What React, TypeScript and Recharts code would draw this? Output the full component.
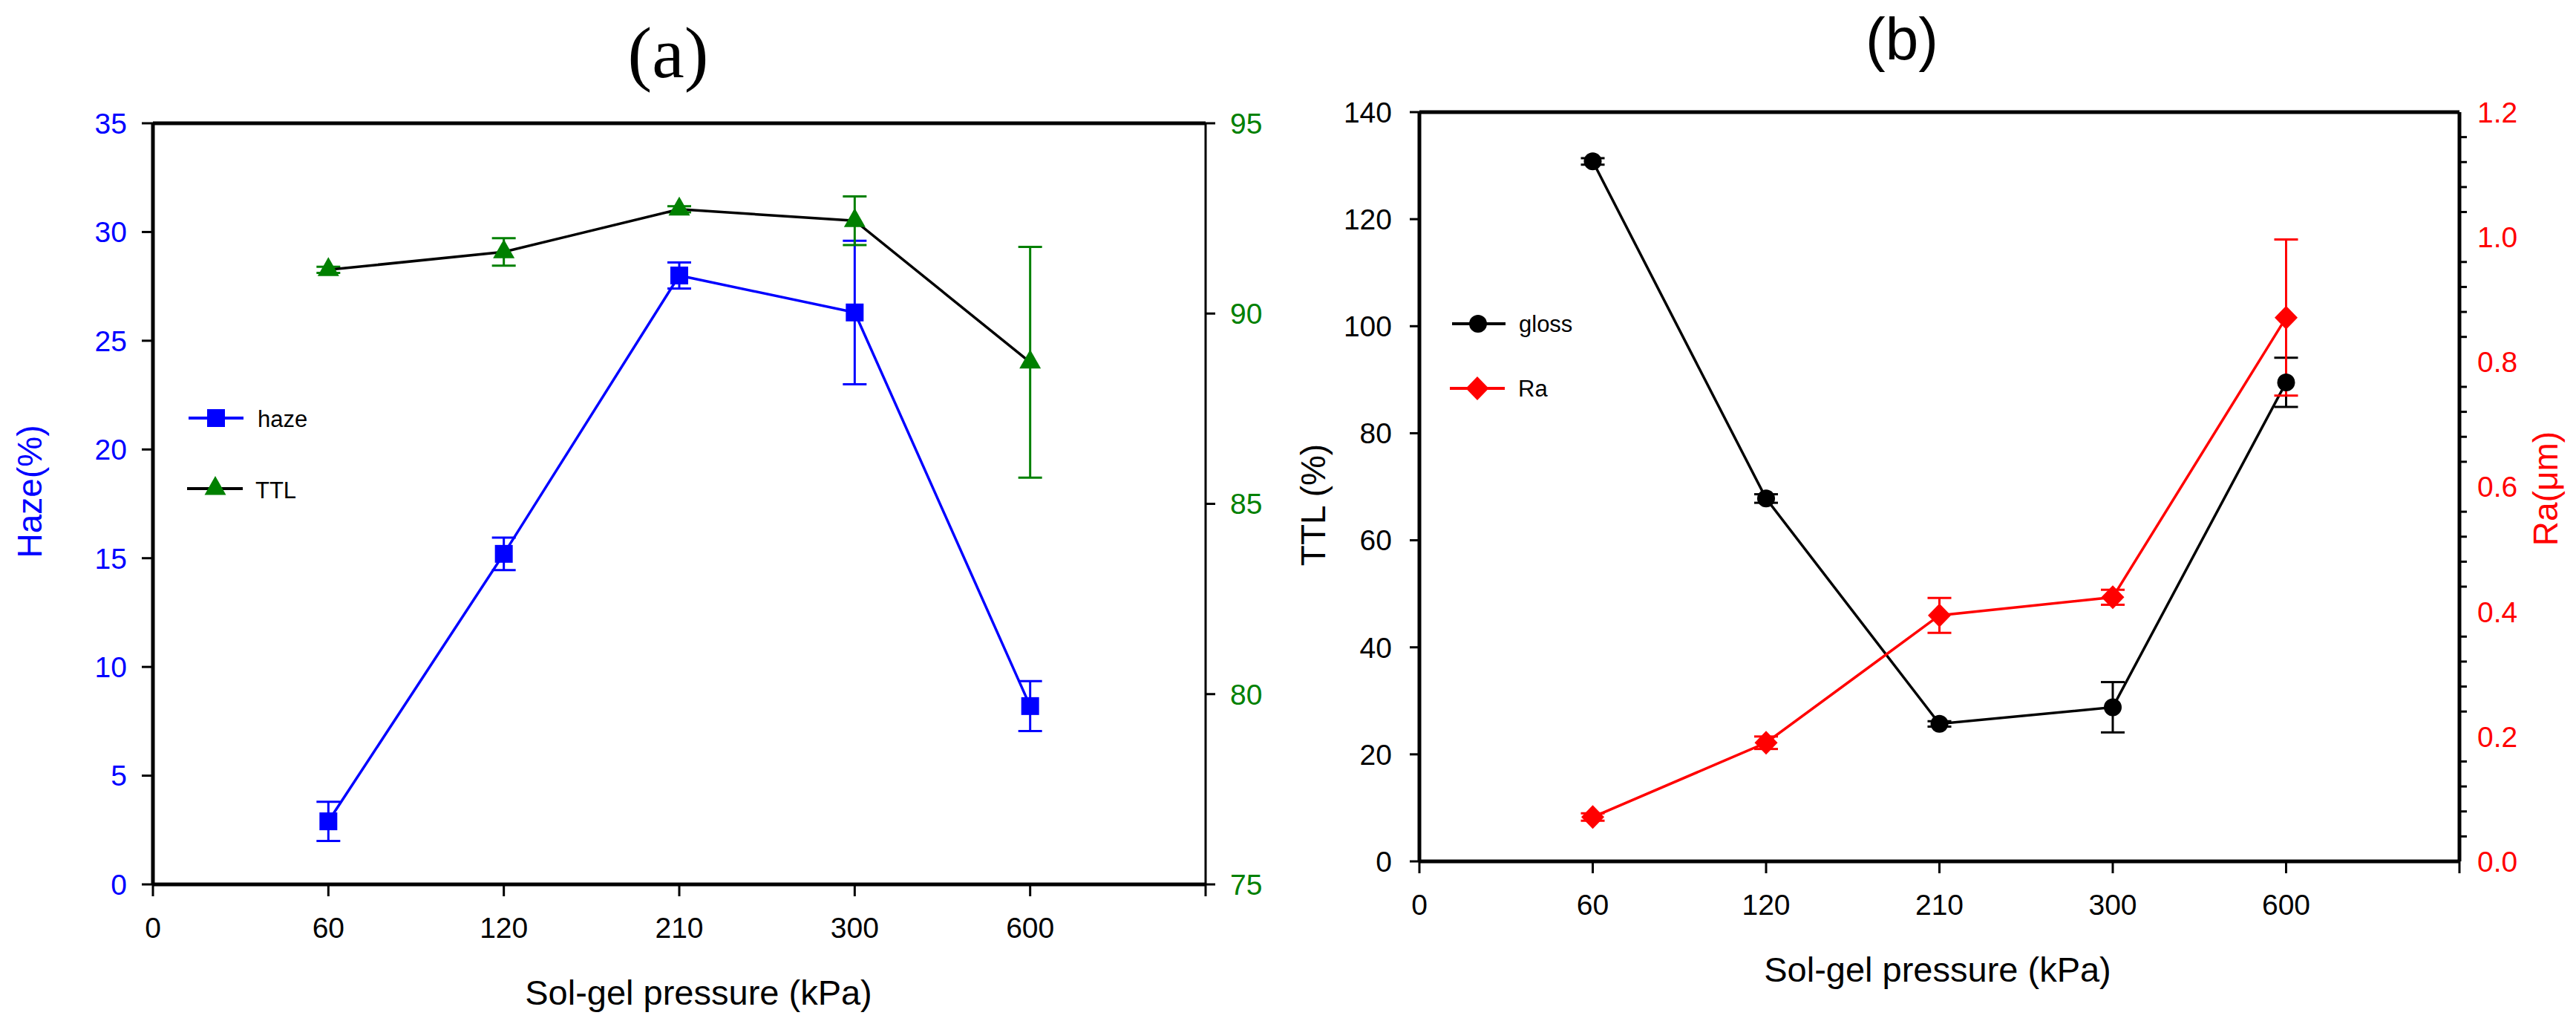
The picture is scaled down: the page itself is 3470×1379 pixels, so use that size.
import React from 'react';
import { LineChart, Line, XAxis, YAxis, ErrorBar, ReferenceLine } from 'recharts';

// ---------- data ----------
const xPositions = [1, 2, 3, 4, 5]; // 60, 120, 210, 300, 600 kPa as category slots
const xTickValues = [0, 1, 2, 3, 4, 5, 6];
const xTickLabels = ['0', '60', '120', '210', '300', '600', ''];

const haze = [2.9, 15.2, 28.0, 26.3, 8.2];
const hazeErr = [0.9, 0.75, 0.6, 3.3, 1.15];
const ttl = [91.15, 91.62, 92.74, 92.44, 88.72];
const ttlErr = [0.08, 0.36, 0.08, 0.64, 3.03];

const gloss = [130.8, 67.8, 25.7, 28.8, 89.5];
const glossErr = [0.6, 0.8, 0.5, 4.7, 4.6];
const ra = [0.071, 0.19, 0.394, 0.423, 0.871];
const raErr = [0.006, 0.01, 0.028, 0.012, 0.125];

const hazeTicks = [0, 5, 10, 15, 20, 25, 30, 35];
const ttlTicks = [75, 80, 85, 90, 95];
const glossTicks = [0, 20, 40, 60, 80, 100, 120, 140];
const raLabelTicks = [0, 0.2, 0.4, 0.6, 0.8, 1.0, 1.2];
const raTickLabels = ['0.0', '0.2', '0.4', '0.6', '0.8', '1.0', '1.2'];
const raMinorCount = 31; // minor ticks every 0.04 from 0 to 1.2
const raAllTicks = Array.from({ length: raMinorCount }, (_, i) => +(i * 0.04).toFixed(2));

const dataA = xPositions.map((x, i) => ({ x, haze: haze[i], hazeErr: hazeErr[i], ttl: ttl[i], ttlErr: ttlErr[i] }));
const dataB = xPositions.map((x, i) => ({ x, gloss: gloss[i], glossErr: glossErr[i], ra: ra[i], raErr: raErr[i] }));

// ---------- styles ----------
const FONT = '"Liberation Sans", Arial, sans-serif';
const BLUE = '#0000ff';
const GREEN = '#008000';
const RED = '#ff0000';
const BLACK = '#000000';

const tickFont = { fontSize: 39, fontFamily: FONT };

const SquareDot = (color: string) => (p: any) => (
  <rect key={`sq-${p.index}`} x={p.cx - 12} y={p.cy - 12} width={24} height={24} fill={color} />
);
const TriangleDot = (color: string) => (p: any) => (
  <polygon
    key={`tr-${p.index}`}
    points={`${p.cx},${p.cy - 17} ${p.cx + 14.5},${p.cy + 8.5} ${p.cx - 14.5},${p.cy + 8.5}`}
    fill={color}
  />
);
const CircleDot = (color: string) => (p: any) => (
  <circle key={`ci-${p.index}`} cx={p.cx} cy={p.cy} r={12} fill={color} />
);
const DiamondDot = (color: string) => (p: any) => (
  <polygon
    key={`di-${p.index}`}
    points={`${p.cx},${p.cy - 16} ${p.cx + 15.5},${p.cy} ${p.cx},${p.cy + 16} ${p.cx - 15.5},${p.cy}`}
    fill={color}
  />
);

const RA_TICK_SIZE = 10;
const RA_TICK_MARGIN = 14;
const RaTick = (props: any) => {
  const { x, y, payload } = props;
  const v = payload.value;
  const idx = raLabelTicks.findIndex((t) => Math.abs(t - v) < 1e-6);
  if (idx >= 0) {
    return (
      <text x={x} y={y} dy="0.355em" textAnchor="start" fill={RED} fontSize={39} fontFamily={FONT}>
        {raTickLabels[idx]}
      </text>
    );
  }
  const axisX = x - RA_TICK_MARGIN - RA_TICK_SIZE;
  return <line x1={axisX} x2={axisX + RA_TICK_SIZE} y1={y} y2={y} stroke={BLACK} strokeWidth={3} />;
};

const xAxisProps = {
  type: 'number' as const,
  dataKey: 'x',
  domain: [0, 6],
  ticks: xTickValues,
  interval: 0 as const,
  tickFormatter: (v: number) => xTickLabels[v] ?? '',
  axisLine: { stroke: BLACK, strokeWidth: 5 },
  tickLine: { stroke: BLACK, strokeWidth: 3 },
  tickSize: 16,
  tickMargin: 28,
  tick: { ...tickFont, fill: BLACK },
  height: 100,
};

function PanelA() {
  return (
    <LineChart width={1760} height={1379} data={dataA} margin={{ top: 166, right: 36, bottom: 88, left: 106 }}>
      <XAxis {...xAxisProps} />
      <YAxis
        yAxisId="left"
        domain={[0, 35]}
        ticks={hazeTicks}
        interval={0}
        width={100}
        axisLine={{ stroke: BLACK, strokeWidth: 5 }}
        tickLine={{ stroke: BLACK, strokeWidth: 3 }}
        tickSize={15}
        tickMargin={20}
        tick={{ ...tickFont, fill: BLUE }}
      />
      <YAxis
        yAxisId="right"
        orientation="right"
        domain={[75, 95]}
        ticks={ttlTicks}
        interval={0}
        width={100}
        axisLine={{ stroke: BLACK, strokeWidth: 3 }}
        tickLine={{ stroke: BLACK, strokeWidth: 3 }}
        tickSize={13}
        tickMargin={20}
        tick={{ ...tickFont, fill: GREEN }}
      />
      <ReferenceLine yAxisId="left" y={35} stroke={BLACK} strokeWidth={5} />
      <Line
        yAxisId="left"
        dataKey="haze"
        type="linear"
        stroke={BLUE}
        strokeWidth={3.5}
        dot={SquareDot(BLUE)}
        activeDot={false}
        isAnimationActive={false}
      >
        <ErrorBar dataKey="hazeErr" direction="y" width={16} stroke={BLUE} strokeWidth={3} />
      </Line>
      <Line
        yAxisId="right"
        dataKey="ttl"
        type="linear"
        stroke={BLACK}
        strokeWidth={3.5}
        dot={TriangleDot(GREEN)}
        activeDot={false}
        isAnimationActive={false}
      >
        <ErrorBar dataKey="ttlErr" direction="y" width={16} stroke={GREEN} strokeWidth={3} />
      </Line>
    </LineChart>
  );
}

function PanelB() {
  return (
    <LineChart width={1670} height={1379} data={dataB} margin={{ top: 151, right: 57, bottom: 119, left: 12 }}>
      <XAxis {...xAxisProps} />
      <YAxis
        yAxisId="left"
        domain={[0, 140]}
        ticks={glossTicks}
        interval={0}
        width={100}
        axisLine={{ stroke: BLACK, strokeWidth: 5 }}
        tickLine={{ stroke: BLACK, strokeWidth: 3 }}
        tickSize={13}
        tickMargin={24}
        tick={{ ...tickFont, fill: BLACK }}
      />
      <YAxis
        yAxisId="right"
        orientation="right"
        domain={[0, 1.2]}
        ticks={raAllTicks}
        interval={0}
        width={100}
        axisLine={{ stroke: BLACK, strokeWidth: 5 }}
        tickLine={false}
        tickSize={RA_TICK_SIZE}
        tickMargin={RA_TICK_MARGIN}
        tick={<RaTick />}
      />
      <ReferenceLine yAxisId="left" y={140} stroke={BLACK} strokeWidth={5} />
      <Line
        yAxisId="left"
        dataKey="gloss"
        type="linear"
        stroke={BLACK}
        strokeWidth={3.5}
        dot={CircleDot(BLACK)}
        activeDot={false}
        isAnimationActive={false}
      >
        <ErrorBar dataKey="glossErr" direction="y" width={16} stroke={BLACK} strokeWidth={3} />
      </Line>
      <Line
        yAxisId="right"
        dataKey="ra"
        type="linear"
        stroke={RED}
        strokeWidth={3.5}
        dot={DiamondDot(RED)}
        activeDot={false}
        isAnimationActive={false}
      >
        <ErrorBar dataKey="raErr" direction="y" width={16} stroke={RED} strokeWidth={3} />
      </Line>
    </LineChart>
  );
}

function Overlay() {
  return (
    <svg
      width={3470}
      height={1379}
      style={{ position: 'absolute', left: 0, top: 0, pointerEvents: 'none' }}
    >
      {/* titles */}
      <text x={900} y={104} textAnchor="middle" fontFamily='"Liberation Serif", "Times New Roman", serif' fontSize={98} fill={BLACK}>
        (a)
      </text>
      <text x={2562} y={80} textAnchor="middle" fontFamily={FONT} fontSize={80} fill={BLACK}>
        (b)
      </text>

      {/* axis titles */}
      <text x={941} y={1353} textAnchor="middle" fontFamily={FONT} fontSize={47} fill={BLACK}>
        Sol-gel pressure (kPa)
      </text>
      <text x={2610} y={1322} textAnchor="middle" fontFamily={FONT} fontSize={47} fill={BLACK}>
        Sol-gel pressure (kPa)
      </text>
      <text transform="translate(56,662) rotate(-90)" textAnchor="middle" fontFamily={FONT} fontSize={46} fill={BLUE}>
        Haze(%)
      </text>
      <text transform="translate(1785,680) rotate(-90)" textAnchor="middle" fontFamily={FONT} fontSize={46} fill={BLACK}>
        TTL (%)
      </text>
      <text transform="translate(3445,658) rotate(-90)" textAnchor="middle" fontFamily={FONT} fontSize={46} fill={RED}>
        Ra(μm)
      </text>

      {/* legend (a) */}
      <line x1={254} x2={328} y1={563} y2={563} stroke={BLUE} strokeWidth={4} />
      <rect x={279} y={551} width={24} height={24} fill={BLUE} />
      <text x={347} y={575} fontFamily={FONT} fontSize={31} fill={BLACK}>haze</text>
      <line x1={252} x2={327} y1={658} y2={658} stroke={BLACK} strokeWidth={4} />
      <polygon points="290,641 304.5,666.5 275.5,666.5" fill={GREEN} />
      <text x={344} y={671} fontFamily={FONT} fontSize={31} fill={BLACK}>TTL</text>

      {/* legend (b) */}
      <line x1={1956} x2={2028} y1={436} y2={436} stroke={BLACK} strokeWidth={4} />
      <circle cx={1991} cy={436} r={12} fill={BLACK} />
      <text x={2046} y={447} fontFamily={FONT} fontSize={31} fill={BLACK}>gloss</text>
      <line x1={1953} x2={2027} y1={523} y2={523} stroke={RED} strokeWidth={4} />
      <polygon points="1990,507 2005.5,523 1990,539 1974.5,523" fill={RED} />
      <text x={2045} y={534} fontFamily={FONT} fontSize={31} fill={BLACK}>Ra</text>
    </svg>
  );
}

export default function App() {
  return (
    <div style={{ position: 'absolute', left: 0, top: 0, width: 3470, height: 1379, background: '#fff', overflow: 'hidden' }}>
      <div style={{ position: 'absolute', left: 0, top: 0 }}>
        <PanelA />
      </div>
      <div style={{ position: 'absolute', left: 1800, top: 0 }}>
        <PanelB />
      </div>
      <Overlay />
    </div>
  );
}
